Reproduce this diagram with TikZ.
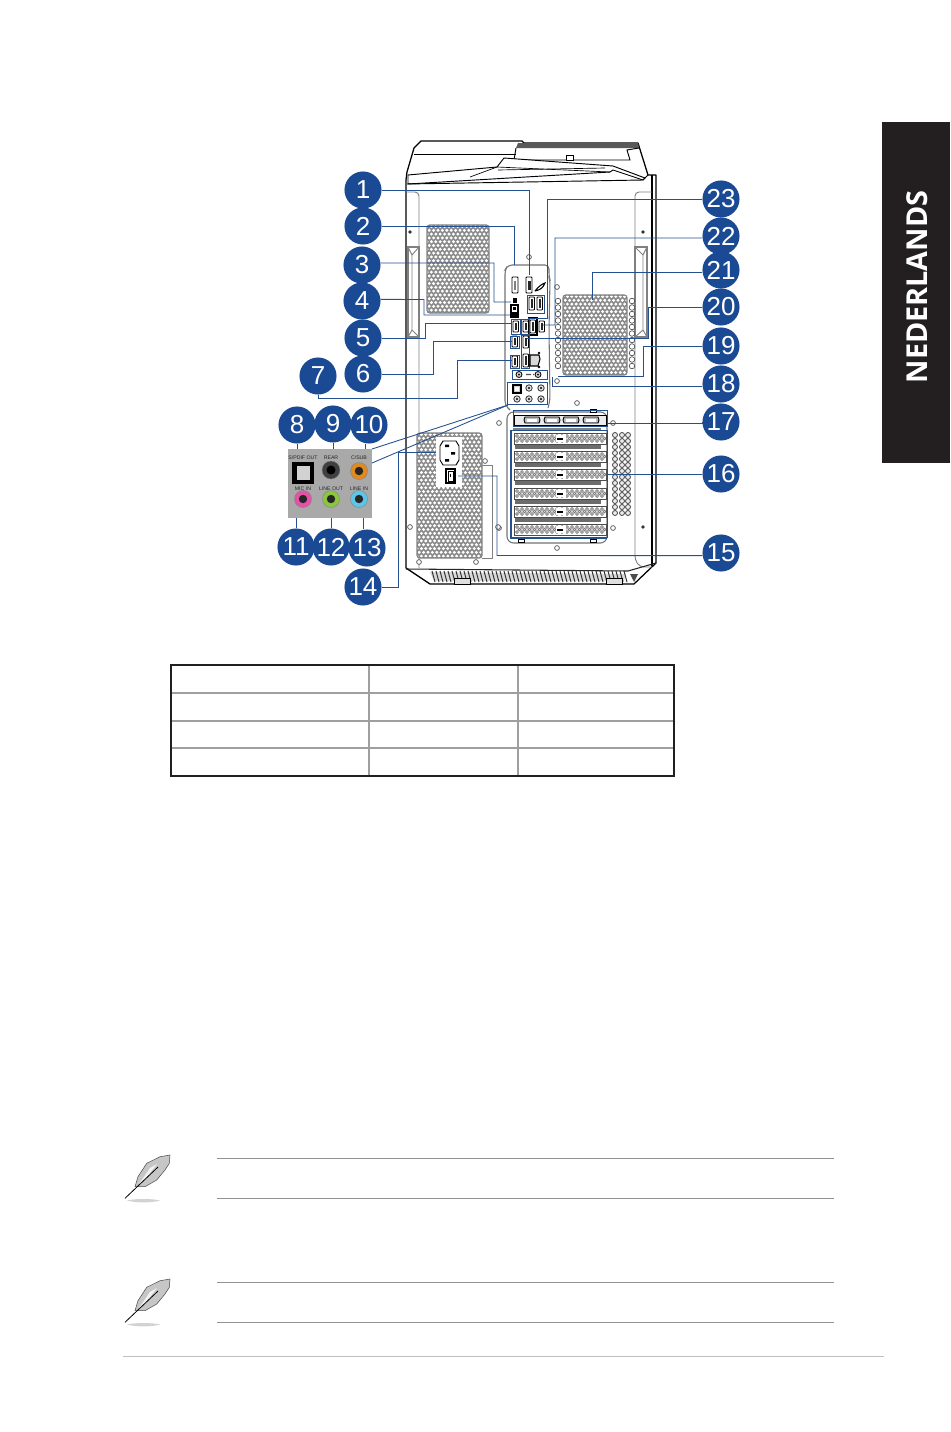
\documentclass[tikz,border=0pt]{standalone}
\usepackage{xcolor}
\usepackage{fontspec}
\setmainfont{Liberation Sans}
\newfontfamily\tabfont{Open Sans}
\definecolor{badgeblue}{HTML}{1B4A94}
\definecolor{leadblue}{HTML}{24508F}
\definecolor{tabblack}{HTML}{231F20}
\definecolor{ventgray}{HTML}{8A8A8A}
\definecolor{panelgray}{HTML}{A9A9A9}
\definecolor{jackorange}{HTML}{E08A20}
\definecolor{jackpink}{HTML}{E552A8}
\definecolor{jackgreen}{HTML}{8CC63F}
\definecolor{jackcyan}{HTML}{5CC5E8}
\usetikzlibrary{arrows.meta, calc}
% grid of vent holes: x0, y0, x1, y1
\newcommand{\ventgrid}[4]{
  \begin{scope}
    \clip[rounded corners=2pt] (#1,#2) rectangle (#3,#4);
    \fill[ventgray] (#1,#2) rectangle (#3,#4);
    \pgfmathtruncatemacro{\ventcols}{(#3-#1)/4.4+1}
    \pgfmathtruncatemacro{\ventrows}{(#4-#2)/3.8+1}
    \foreach \i in {0,...,\ventcols}
      \foreach \j in {0,...,\ventrows}
        \fill[white] ({#1+\i*4.4+mod(\j,2)*2.2},{#2+1.5+\j*3.8}) circle (1.65);
  \end{scope}
  \draw[gray, line width=.8pt, rounded corners=2pt] (#1,#2) rectangle (#3,#4);
}
\begin{document}
\begin{tikzpicture}[
    x=0.75pt, y=-0.75pt,
    badge/.style ={circle, fill=badgeblue, text=white, inner sep=0pt,
                   minimum size=27.8pt, font=\fontsize{19.5}{20}\selectfont},
    leader/.style={draw=leadblue, line width=.65pt},
    body/.style  ={draw=black, line width=.95pt},
    rail/.style  ={draw=gray, line width=.7pt},
    screwhole/.style={draw=black!70, line width=.5pt, fill=white},
    port/.style  ={draw=black, line width=.6pt, fill=white, rounded corners=.6pt},
    portcore/.style={fill=black!85},
    jack/.style  ={circle, draw=black!50, line width=.3pt, inner sep=0pt, minimum size=12.8pt},
    tiny/.style  ={font=\fontsize{3.9}{4}\selectfont, text=black!85, inner sep=0pt},
    feather/.pic={
      \fill[gray!35] (17,60.5) .. controls (25,58.5) and (42,58.5) .. (50,60.5)
                     .. controls (42,63) and (25,63) .. (17,60.5);
      \draw[black!70, fill=gray!45, line width=.4pt] (25,46.7) -- (28,36.7) -- (36.7,23.3) -- (50,16.7)
                     -- (60,15) -- (59.3,23.3) -- (55,30) -- (46.7,40) -- (35,46.7) -- cycle;
      \fill[gray!10] (29,44) -- (40,28) -- (47,24) -- (36,38) -- cycle;
      \draw[black, line width=.6pt] (15,58.3) -- (48,27);
    },
]
\useasboundingbox (0,0) rectangle (950,1432);
% side tab
\fill[tabblack] (882,122) rectangle (950,463);
\node[rotate=90, text=white, font=\tabfont\bfseries\fontsize{21.6}{22}\selectfont, inner sep=0pt]
   (tabtext) at (917,287) {NEDERLANDS};

% tower outline
\draw[body, line join=round] (406,568) -- (406,180) -- (407,172) -- (414,148) -- (421,141) -- (522,141)
   -- (524,143) -- (638,143) -- (648,175) -- (656,175) -- (656,563) -- (634,584) -- (430,584) -- cycle;
\draw[body] (652,175) -- (652,566);
\draw[body, line width=.7pt] (414,154) -- (516,154);
\fill[black!65] (518,143) -- (638,143) -- (639,148) -- (516,148) -- cycle;
\draw[line width=.7pt] (516,148) -- (514,160) -- (630,160) -- (627,150) -- (639,148);
\draw[line width=.7pt, fill=white] (408,175) -- (497,167) -- (504,158) -- (613,166) -- (645,178)
   -- (643,180) -- (613,170) -- (610,172) -- (408,184) -- cycle;
\draw[line width=.5pt] (470,177) -- (497,167) -- (610,172);
\draw[line width=.5pt] (498,170) -- (605,168);
\draw[line width=.6pt, fill=white] (566,155) rectangle (573,160);
\draw[line width=.7pt] (648,175) -- (643,180) -- (407,184);

% inner rails and handles
\draw[rail, rounded corners=3pt] (406,192) -- (419,192) -- (419,568);
\draw[rail, rounded corners=3pt] (652,192) -- (635,192) -- (635,560) -- (640,567) -- (652,567);
\draw[rail, line width=.9pt] (408,247) rectangle (419,337);
\draw[rail] (408,247) -- (412,255) -- (412,330) -- (408,337) (419,247) -- (412,255) (419,337) -- (412,330);
\draw[rail, line width=.9pt] (635,247) rectangle (647,337);
\draw[rail] (647,247) -- (643,255) -- (643,330) -- (647,337) (635,247) -- (643,255) (635,337) -- (643,330);
\foreach \x/\y in {410/232, 643/232, 410/527, 643/527}
  \fill[black!80] (\x,\y) circle (1.8);

% base vents
\fill[gray!30] (430,572) -- (626,574) -- (624,581) -- (434,581) -- cycle;
\foreach \x in {432,436,...,626}
  \draw[black!80, line width=.75pt] (\x,571) -- (\x+3,582);
\draw[black!85, line width=.8pt] (406,569) -- (628,571) -- (656,563);
\draw[black, line width=.6pt, fill=gray!25] (454,578) rectangle (470,584);
\draw[black, line width=.6pt, fill=gray!25] (606,578) rectangle (622,584);
\fill[black!70] (630,574) -- (638,574) -- (634,582) -- cycle;

% upper vents
\ventgrid{427}{225}{489}{313}
\ventgrid{563}{295}{627}{375}
\foreach \y in {301,307.5,...,372} {
  \draw[screwhole] (558,\y) circle (2.8);
  \draw[screwhole] (632,\y) circle (2.8);
}
\foreach \x/\y in {529/257, 557/287, 557/381, 577/403, 499/423, 613/423, 499/528, 613/528, 557/548, 420/439, 485/461, 410/527, 498/527, 419/562, 476/562}
  \draw[screwhole] (\x,\y) circle (2.4);

% i/o shield
\draw[gray!90!black, line width=.8pt, rounded corners=3pt] (510,410) -- (505,405) -- (505,270) -- (508,265)
   -- (549,265) -- (549,277) -- (550,280) -- (549,330) -- (550,400) -- (548,408);
\foreach \x/\y/\w/\h in {512/277/6/16, 526/277/6/16}
  \draw[port] (\x,\y) rectangle ++(\w,\h);
\fill[portcore] (528,281) rectangle ++(2.5,9);
\fill[gray] (514,281) rectangle ++(2,9);
\draw[black, line width=.8pt] (535,291) .. controls (539,286) and (542,284) .. (545,283) .. controls (543,288) and (540,290) .. (535,291);
\fill[black] (513,298) rectangle ++(4,5);
\draw[black, line width=1pt, fill=white] (511,305) rectangle (518,317);
\fill[black] (512,312) rectangle (517,316);
\fill[black] (513,307) rectangle (516,310);
\foreach \x/\y/\h in {529/297/13, 537/297/13, 513/321/11, 523/321/11, 530/320/13, 539/321/11, 512/336/11, 523/336/12, 512/356/11, 523/354/13}{
  \draw[port] (\x,\y) rectangle ++(5.5,\h);
  \fill[portcore] (\x+1.7,\y+2) rectangle ++(2,\h-4);
}
\draw[black, line width=1pt] (529,318) rectangle (537,335);
\foreach \a/\b/\c/\d in {527/295/544/313, 511/319/520/334, 521/319/529/334, 510/336/519/348, 510/355/519/368, 521/335/529/368}
  \draw[leadblue, line width=.6pt] (\a,\b) rectangle (\c,\d);
% lan port
\draw[black, line width=.8pt, fill=gray!30] (530,355) -- (539,355) -- (540,359) -- (538,366) -- (530,366) -- cycle;
\fill[black] (539,353) circle (1.3) (539,367) circle (1.3);
\draw[leadblue, line width=.6pt] (512,370) rectangle (547,379);
\foreach \x in {519,538} {
  \draw[black, fill=gray!35, line width=.6pt] (\x,374.5) circle (3);
  \fill[black] (\x,374.5) circle (1);
}
\fill[black!70] (526,373.8) rectangle (531,375) (533,373.8) rectangle (534,375);
\draw[leadblue, line width=.6pt] (507,382) rectangle (547,404);
\draw[black, line width=.8pt, fill=gray!40] (513,385) rectangle (521,393);
\fill[white] (515,387) rectangle (519,391);
\foreach \x/\y in {529/388, 541/388, 517/399, 529/399, 541/399} {
  \draw[black!80, line width=.6pt, fill=gray!25] (\x,\y) circle (3.2);
  \fill[black] (\x,\y) circle (1.1);
}

% expansion slots
\draw[gray!90!black, line width=.8pt, rounded corners=5pt] (507,412) rectangle (607,543);
\foreach \x/\y in {590/409, 518/539, 590/539}
  \draw[black, line width=.6pt, fill=white] (\x,\y) rectangle ++(6,3);
\draw[line width=.6pt, fill=gray!15] (514,415) rectangle (606,425);
\foreach \x in {532,552,571,591} {
  \draw[black, line width=.7pt, fill=gray!50] (\x-7,417) -- (\x+7,417) -- (\x+8,420) -- (\x+7,423) -- (\x-7,423) -- (\x-8,420) -- cycle;
  \fill[white] (\x-5,418.5) rectangle (\x+5,421.5);
}
\fill[gray] (513,428) rectangle (601,431);
\foreach \y in {433,451,469,488,506,524} {
  \draw[black!70, line width=.6pt] (514,\y) rectangle (606,\y+11);
  \fill[white] (515,\y+.5) rectangle (605,\y+10.5);
  \foreach \x in {517,522,...,603} {
    \draw[black!60, line width=.45pt, fill=gray!30] (\x,\y+3) circle (1.5);
    \draw[black!60, line width=.45pt, fill=gray!30] (\x+2.5,\y+5.5) circle (1.5);
    \draw[black!60, line width=.45pt, fill=gray!30] (\x,\y+8) circle (1.5);
  }
  \fill[white] (556,\y+2) rectangle (566,\y+9);
  \fill[black] (557,\y+4.5) rectangle (563,\y+6.5);
}
\foreach \y in {447,465,483,502,520}
  \fill[gray!85!black] (515,\y-2) rectangle (601,\y+2);
\foreach \x in {615,622,628}
  \foreach \y in {435,441,...,516}
    \draw[black!75, line width=.6pt, fill=gray!15] (\x,\y) circle (2.5);

% psu
\ventgrid{417}{433}{482}{558}
\fill[white] (436,437) rectangle (462,487);
\draw[gray, line width=.6pt] (482,465) -- (492,465) -- (492,558) -- (482,558);
\draw[black, line width=.7pt, fill=white] (443,441) -- (456,441) -- (459,446) -- (459,460) -- (456,465) -- (443,465) -- (440,460) -- (440,446) -- cycle;
\fill[black] (445,444.5) rectangle ++(4,2.5) (451,452) rectangle ++(4,2.5) (445,459) rectangle ++(4,2.5);
\draw[black, line width=1pt, fill=white] (446,469) rectangle (455,483);
\draw[black, line width=.5pt] (448,471) rectangle (453,481);
\fill[black] (450,474) rectangle ++(1,3);

% audio panel
\fill[panelgray] (288,449) rectangle (372,518);
\fill[black] (292,462) rectangle (314,484);
\fill[gray!35] (297,466) rectangle (310,480);
\node[jack, fill=black!75, minimum size=13.5pt] (rearjack) at (331,470) {};
\fill[black] (331,470) circle (4.5);
\node[jack, fill=jackorange] (subjack) at (359,471) {};
\fill[black!85] (359,471) circle (4.2);
\node[jack, fill=jackpink] (micjack) at (303,499) {};
\fill[black!85] (303,499) circle (4.2);
\node[jack, fill=jackgreen] (outjack) at (331,499) {};
\fill[black!85] (331,499) circle (4.2);
\node[jack, fill=jackcyan] (injack) at (359,499) {};
\fill[black!85] (359,499) circle (4.2);
\node[tiny] (spdiflabel) at (303,458) {S/PDIF OUT};
\node[tiny] (rearlabel) at (331,458) {REAR};
\node[tiny] (sublabel) at (359,458) {C/SUB};
\node[tiny] (miclabel) at (303,489) {MIC IN};
\node[tiny] (outlabel) at (331,489) {LINE OUT};
\node[tiny] (inlabel) at (359,489) {LINE IN};

% numbered badges
\foreach \n/\x/\y in {1/363/190, 2/363/226, 3/362/265, 4/362/301, 5/363/338, 6/363/374, 7/318/376,
    8/297/425, 9/333/424, 10/369/425, 11/296/547, 12/331/547, 13/367/548, 14/363/587,
    15/721/553, 16/721/474, 17/721/422, 18/721/384, 19/721/346, 20/721/307, 21/721/270, 22/721/236, 23/721/199}
  \node[badge] (b\n) at (\x,\y) {\n};

% leader ends
\coordinate (e1) at (529,275);
\coordinate (e2) at (514,265);
\coordinate (e3) at (511,302);
\coordinate (e4) at (510,315);
\coordinate (e5) at (512,323);
\coordinate (e6) at (512,341);
\coordinate (e7) at (512,360);
\coordinate (e8) at (297,449);
\coordinate (e9) at (333,449);
\coordinate (e10) at (365,449);
\coordinate (e11) at (296,518);
\coordinate (e12) at (331,518);
\coordinate (e13) at (363,518);
\coordinate (e14) at (436,452);
\coordinate (e15) at (458,476);
\coordinate (e16) at (607,474);
\coordinate (e17) at (607,423);
\coordinate (e18) at (552,377);
\coordinate (e19) at (558,376);
\coordinate (e20) at (527,338);
\coordinate (e21) at (592,300);
\coordinate (e22) at (543,325);
\coordinate (e23) at (528,318);
\draw[leader] (b1.east) -| (e1);
\draw[leader] (b2.east) -| (e2);
\draw[leader] (b3.6) -- (494,263) |- (e3);
\draw[leader] (b4.5) -- (424,299.5) |- (e4);
\draw[leader] (b5.east) -- (425,338) |- (e5);
\draw[leader] (b6.east) -- (433,374) |- (e6);
\draw[leader] (b7.south) |- (457,398) |- (e7);
\draw[leader] (b8.south) -- (e8);
\draw[leader] (b9.south) -- (e9);
\draw[leader] (b10.south -| e10) -- (e10);
\draw[leader] (b11.north) -- (e11);
\draw[leader] (b12.north) -- (e12);
\draw[leader] (b13.north -| e13) -- (e13);
\draw[leader] (b14.east) -- (398,587) |- (e14);
\draw[leader] (b15.188) -- (497,555.5) |- (e15);
\draw[leader] (b16.west) -- (e16);
\draw[leader] (b17.west) -- (e17 -| b17.west) -- (e17);
\draw[leader] (b18.188) -| (e18);
\draw[leader] (b19.west) -- (643,346) |- (e19);
\draw[leader] (b20.west) -- (648,307) |- (e20);
\draw[leader] (b21.186) -| (e21);
\draw[leader] (b22.186) -- (555,238) |- (e22);
\draw[leader] (b23.west) -- (547,199) |- (e23);
\coordinate (p1) at (372,449);
\coordinate (p2) at (372,463);
\coordinate (s1) at (508,405);
\draw[leader] (p1) -- (s1);
\draw[leader] (p2) -- (s1);
% slot brackets
\draw[leadblue, line width=.7pt] (607,410) -- (607,426) -- (513,426) -- (513,410) -- cycle;
\draw[leadblue, line width=.7pt] (607,538) -- (607,430) -- (511,430);
\draw[leadblue, line width=1.4pt] (511,430) -- (511,538) -- (607,538);

% spec table
\draw[gray!75, line width=1.5pt] (171,693) -- (674,693) (171,720.5) -- (674,720.5) (171,748) -- (674,748)
   (369,665) -- (369,776) (518,665) -- (518,776);
\draw[tabblack, line width=1.6pt] (171,665) rectangle (674,776);

% notes
\foreach \y in {1158,1198,1282,1322}
  \draw[gray!85, line width=.75pt] (217,\y) -- (834,\y);
\draw[gray!50, line width=.75pt] (123,1356) -- (884,1356);
\pic at (110,1140) {feather};
\pic at (110,1264) {feather};
\end{tikzpicture}
\end{document}
